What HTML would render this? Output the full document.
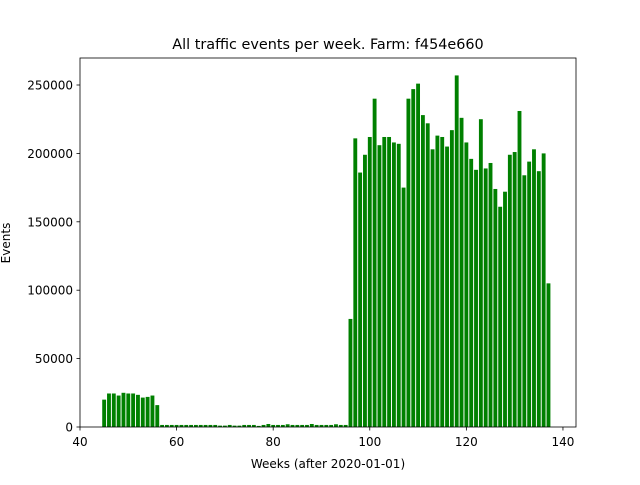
<!DOCTYPE html>
<html><head><meta charset="utf-8"><style>
body{margin:0;background:#fff;}
svg text{font-family:"DejaVu Sans","Liberation Sans",sans-serif;fill:#000;}
</style></head><body>
<svg id="chart" width="640" height="480">
<rect x="0" y="0" width="640" height="480" fill="#fff"/>
<text x="328" y="49" font-size="14.4" text-anchor="middle">All traffic events per week. Farm: f454e660</text>
<g id="bars"></g>
<rect x="80" y="58" width="496" height="369" fill="none" stroke="#000" stroke-width="0.8"/>
<g id="xticks"></g><g id="yticks"></g>
<text x="328" y="468" font-size="12" text-anchor="middle">Weeks (after 2020-01-01)</text>
<text transform="translate(10,243) rotate(-90)" font-size="12" text-anchor="middle">Events</text>
</svg>
<script>
const weeks = [];
for (let w = 45; w <= 137; w++) weeks.push(w);
const highEarly = [20000,24500,24500,23000,25000,24500,24500,23500,21500,22000,23000,16000];
const lowMid = [1500,1500,1500,1500,1500,1500,1500,1500,1500,1500,
1500,1500,1000,1000,1500,1000,1000,1500,1500,1500,
800,1500,2200,1500,1500,1500,2000,1500,1500,1500,
1500,2200,1500,1500,1500,1500,2000,1500,1500];
const highLate = [79000,211000,186000,199000,212000,240000,206000,212000,212000,208000,207000,175000,240000,247000,251000,228000,222000,203000,213000,212000,205000,217000,257000,226000,208000,196000,188000,225000,189000,193000,174000,161000,172000,199000,201000,231000,184000,194000,203000,187000,200000,105000];
const events = highEarly.concat(lowMid, highLate);
const xTicks = [40,60,80,100,120,140];
const yTicks = [0,50000,100000,150000,200000,250000];
const NS = "http://www.w3.org/2000/svg";
const x = v => 80 + (v - 40) * (496 / 102.7);
const y = v => 427 - v * (342 / 250000);
const bw = 0.8 * 496 / 102.7;
const bars = document.getElementById('bars');
weeks.forEach((w, i) => {
  const r = document.createElementNS(NS, 'rect');
  r.setAttribute('x', x(w) - bw / 2);
  r.setAttribute('y', y(events[i]));
  r.setAttribute('width', bw);
  r.setAttribute('height', 427 - y(events[i]));
  r.setAttribute('fill', '#008000');
  
  
  bars.appendChild(r);
});
const xt = document.getElementById('xticks');
xTicks.forEach(t => {
  const l = document.createElementNS(NS, 'line');
  l.setAttribute('x1', x(t)); l.setAttribute('x2', x(t));
  l.setAttribute('y1', 427); l.setAttribute('y2', 430.5);
  l.setAttribute('stroke', '#000'); l.setAttribute('stroke-width', '0.8');
  
  
  xt.appendChild(l);
  const s = document.createElementNS(NS, 'text');
  s.setAttribute('x', x(t)); s.setAttribute('y', 446);
  s.setAttribute('font-size', '12'); s.setAttribute('text-anchor', 'middle');
  s.textContent = t;
  
  
  xt.appendChild(s);
});
const yt = document.getElementById('yticks');
yTicks.forEach(t => {
  const l = document.createElementNS(NS, 'line');
  l.setAttribute('x1', 76.5); l.setAttribute('x2', 80);
  l.setAttribute('y1', y(t)); l.setAttribute('y2', y(t));
  l.setAttribute('stroke', '#000'); l.setAttribute('stroke-width', '0.8');
  
  
  yt.appendChild(l);
  const s = document.createElementNS(NS, 'text');
  s.setAttribute('x', 73); s.setAttribute('y', y(t) + 4.5);
  s.setAttribute('font-size', '12'); s.setAttribute('text-anchor', 'end');
  s.textContent = t;
  
  
  yt.appendChild(s);
});
</script>
</body></html>
